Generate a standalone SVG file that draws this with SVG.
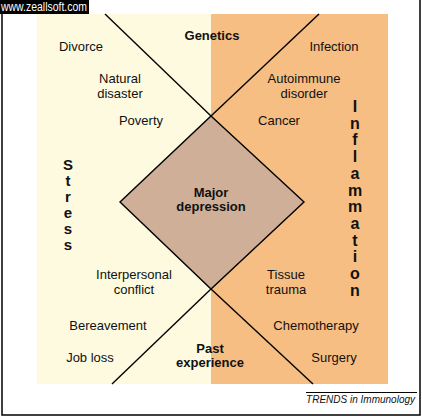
<svg xmlns="http://www.w3.org/2000/svg" width="422" height="417" viewBox="0 0 422 417">
<style>
.t{font-family:"Liberation Sans",Arial,sans-serif;font-size:13px;fill:#111;text-anchor:middle}
.b{font-weight:bold}
.v{font-family:"Liberation Sans",Arial,sans-serif;font-weight:bold;fill:#111;text-anchor:middle}
.ln{stroke:#000;stroke-width:1.4;fill:none}
.fr{stroke:#000;stroke-width:1.5;fill:none}
</style>
<rect width="422" height="417" fill="#fff"/>
<g id="panels">
<rect x="37" y="14" width="174" height="370" fill="#FDFADF"/>
<rect x="211" y="14" width="177" height="370" fill="#F6BE82"/>
</g>
<g id="frame">
<polyline class="fr" points="2,14 2,415 420,415 420,0"/>
</g>
<g id="watermark">
<rect x="0" y="0" width="89" height="14" fill="#000"/>
<text x="1" y="11" font-family="'Liberation Sans',Arial,sans-serif" font-size="12" fill="#fff" textLength="86" lengthAdjust="spacingAndGlyphs">www.zeallsoft.com</text>
</g>
<g id="connectors">
<line class="ln" x1="105" y1="14" x2="211" y2="116"/>
<line class="ln" x1="319" y1="14" x2="211" y2="116"/>
<line class="ln" x1="112" y1="384" x2="211" y2="289"/>
<line class="ln" x1="313" y1="384" x2="211" y2="289"/>
</g>
<g id="major-depression">
<polygon points="211,116 304,202 211,289 120,202" fill="#CFAF98" stroke="#000" stroke-width="1.4"/>
<text class="t b"><tspan x="211" y="197">Major</tspan><tspan x="211" y="211">depression</tspan></text>
</g>
<g id="genetics"><text class="t b" x="212" y="40">Genetics</text></g>
<g id="past-experience">
<text class="t b"><tspan x="210" y="353">Past</tspan><tspan x="210" y="367">experience</tspan></text>
</g>
<g id="divorce"><text class="t" x="81" y="51">Divorce</text></g>
<g id="natural-disaster">
<text class="t"><tspan x="120" y="83">Natural</tspan><tspan x="120" y="98">disaster</tspan></text>
</g>
<g id="poverty"><text class="t" x="141" y="125">Poverty</text></g>
<g id="infection"><text class="t" x="334" y="51">Infection</text></g>
<g id="autoimmune-disorder">
<text class="t"><tspan x="304" y="83">Autoimmune</tspan><tspan x="304" y="98">disorder</tspan></text>
</g>
<g id="cancer"><text class="t" x="279" y="125">Cancer</text></g>
<g id="interpersonal-conflict">
<text class="t"><tspan x="134" y="279">Interpersonal</tspan><tspan x="134" y="294">conflict</tspan></text>
</g>
<g id="tissue-trauma">
<text class="t"><tspan x="286" y="279">Tissue</tspan><tspan x="286" y="294">trauma</tspan></text>
</g>
<g id="bereavement"><text class="t" x="108" y="330">Bereavement</text></g>
<g id="job-loss"><text class="t" x="90" y="362">Job loss</text></g>
<g id="chemotherapy"><text class="t" x="316" y="330">Chemotherapy</text></g>
<g id="surgery"><text class="t" x="334" y="362">Surgery</text></g>
<g id="stress" class="v" font-size="15">
<text x="68" y="170">S</text>
<text x="68" y="186">t</text>
<text x="68" y="202">r</text>
<text x="68" y="218">e</text>
<text x="68" y="234">s</text>
<text x="68" y="250">s</text>
</g>
<g id="inflammation" class="v" font-size="16">
<text x="355" y="112">I</text>
<text x="355" y="128.7">n</text>
<text x="355" y="145.4">f</text>
<text x="355" y="162.1">l</text>
<text x="355" y="178.8">a</text>
<text x="355" y="195.5">m</text>
<text x="355" y="212.2">m</text>
<text x="355" y="228.9">a</text>
<text x="355" y="245.6">t</text>
<text x="355" y="262.3">i</text>
<text x="355" y="279">o</text>
<text x="355" y="295.7">n</text>
</g>
<g id="credit">
<line x1="306" y1="392.5" x2="417" y2="392.5" stroke="#000" stroke-width="1"/>
<text x="415" y="403" font-family="'Liberation Sans',Arial,sans-serif" font-size="10" font-style="italic" fill="#111" text-anchor="end">TRENDS in Immunology</text>
</g>
</svg>
